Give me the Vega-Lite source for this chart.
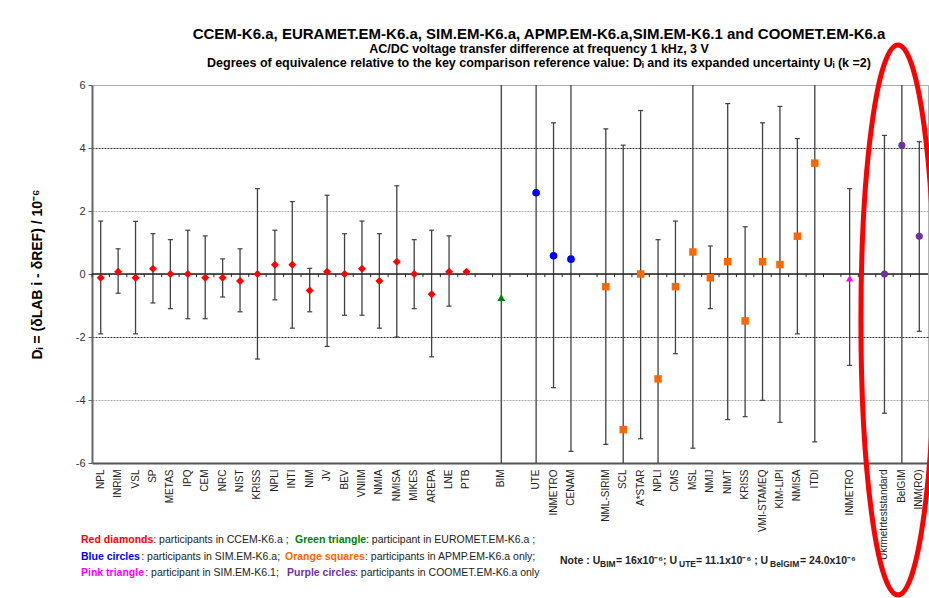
{
  "$schema": "https://vega.github.io/schema/vega-lite/v6.json",
  "width": 836,
  "height": 378,
  "autosize": {"type": "none"},
  "padding": {"left": 92, "top": 85, "right": 1, "bottom": 135},
  "background": "white",
  "config": {"view": {"stroke": "#b0b0b0", "strokeWidth": 1}, "font": "Liberation Sans"},
  "title": {
    "text": "CCEM-K6.a, EURAMET.EM-K6.a,  SIM.EM-K6.a,  APMP.EM-K6.a,SIM.EM-K6.1  and COOMET.EM-K6.a",
    "subtitle": ["AC/DC  voltage transfer difference at frequency 1 kHz, 3 V", "Degrees of equivalence relative to the key comparison reference value: Dᵢ and its expanded uncertainty Uᵢ (k =2)"],
    "anchor": "middle", "frame": "group", "dx": 29, "offset": -35,
    "font": "Liberation Sans", "fontSize": 15, "fontWeight": "bold", "color": "#000000",
    "subtitleFont": "Liberation Sans", "subtitleFontSize": 12.5, "subtitleFontWeight": "bold", "subtitleColor": "#000000",
    "subtitlePadding": 1, "subtitleLineHeight": 14.5
  },
  "data": {"values": [{}]},
  "datasets": {
    "pts": [
      {"key": "NPL", "d": -0.12, "lo": -1.9, "hi": 1.68, "grp": "CCEM"},
      {"key": "INRIM", "d": 0.07, "lo": -0.61, "hi": 0.8, "grp": "CCEM"},
      {"key": "VSL", "d": -0.12, "lo": -1.9, "hi": 1.67, "grp": "CCEM"},
      {"key": "SP", "d": 0.17, "lo": -0.92, "hi": 1.28, "grp": "CCEM"},
      {"key": "METAS", "d": 0.0, "lo": -1.1, "hi": 1.09, "grp": "CCEM"},
      {"key": "IPQ", "d": 0.0, "lo": -1.42, "hi": 1.39, "grp": "CCEM"},
      {"key": "CEM", "d": -0.12, "lo": -1.42, "hi": 1.21, "grp": "CCEM"},
      {"key": "NRC", "d": -0.12, "lo": -0.73, "hi": 0.48, "grp": "CCEM"},
      {"key": "NIST", "d": -0.22, "lo": -1.2, "hi": 0.8, "grp": "CCEM"},
      {"key": "KRISS", "d": 0.0, "lo": -2.7, "hi": 2.71, "grp": "CCEM"},
      {"key": "NPLI", "d": 0.29, "lo": -0.82, "hi": 1.39, "grp": "CCEM"},
      {"key": "INTI", "d": 0.29, "lo": -1.72, "hi": 2.3, "grp": "CCEM"},
      {"key": "NIM", "d": -0.52, "lo": -1.2, "hi": 0.18, "grp": "CCEM"},
      {"key": "JV", "d": 0.07, "lo": -2.3, "hi": 2.5, "grp": "CCEM"},
      {"key": "BEV", "d": 0.0, "lo": -1.31, "hi": 1.28, "grp": "CCEM"},
      {"key": "VNIIM", "d": 0.17, "lo": -1.31, "hi": 1.68, "grp": "CCEM"},
      {"key": "NMIA", "d": -0.22, "lo": -1.72, "hi": 1.28, "grp": "CCEM"},
      {"key": "NMISA", "d": 0.39, "lo": -2.0, "hi": 2.8, "grp": "CCEM"},
      {"key": "MIKES", "d": 0.0, "lo": -1.1, "hi": 1.09, "grp": "CCEM"},
      {"key": "AREPA", "d": -0.64, "lo": -2.63, "hi": 1.39, "grp": "CCEM"},
      {"key": "LNE", "d": 0.07, "lo": -1.02, "hi": 1.21, "grp": "CCEM"},
      {"key": "PTB", "d": 0.07, "lo": null, "hi": null, "grp": "CCEM"},
      {"key": "BIM", "d": -0.75, "lo": -16.75, "hi": 15.25, "grp": "EURAMET"},
      {"key": "UTE", "d": 2.58, "lo": -8.52, "hi": 13.68, "grp": "SIM"},
      {"key": "INMETRO", "d": 0.58, "lo": -3.61, "hi": 4.8, "grp": "SIM"},
      {"key": "CENAM", "d": 0.47, "lo": -5.63, "hi": 6.57, "grp": "SIM"},
      {"key": "NML-SIRIM", "d": -0.4, "lo": -5.41, "hi": 4.61, "grp": "APMP"},
      {"key": "SCL", "d": -4.94, "lo": -13.97, "hi": 4.09, "grp": "APMP"},
      {"key": "A*STAR", "d": 0.0, "lo": -5.23, "hi": 5.19, "grp": "APMP"},
      {"key": "NPLI_2", "d": -3.33, "lo": -7.75, "hi": 1.09, "grp": "APMP"},
      {"key": "CMS", "d": -0.4, "lo": -2.53, "hi": 1.68, "grp": "APMP"},
      {"key": "MSL", "d": 0.7, "lo": -5.53, "hi": 6.93, "grp": "APMP"},
      {"key": "NMIJ", "d": -0.12, "lo": -1.1, "hi": 0.89, "grp": "APMP"},
      {"key": "NIMT", "d": 0.39, "lo": -4.62, "hi": 5.41, "grp": "APMP"},
      {"key": "KRISS_2", "d": -1.49, "lo": -4.53, "hi": 1.5, "grp": "APMP"},
      {"key": "VMI-STAMEQ", "d": 0.39, "lo": -4.01, "hi": 4.8, "grp": "APMP"},
      {"key": "KIM-LIPI", "d": 0.3, "lo": -4.71, "hi": 5.32, "grp": "APMP"},
      {"key": "NMISA_2", "d": 1.2, "lo": -1.9, "hi": 4.3, "grp": "APMP"},
      {"key": "ITDI", "d": 3.52, "lo": -5.33, "hi": 12.37, "grp": "APMP"},
      {"key": "INMETRO_2", "d": -0.14, "lo": -2.9, "hi": 2.71, "grp": "SIM1"},
      {"key": "Ukrmetrteststandard", "d": 0.0, "lo": -4.42, "hi": 4.4, "grp": "COOMET"},
      {"key": "BelGIM", "d": 4.09, "lo": -19.91, "hi": 28.09, "grp": "COOMET"},
      {"key": "INM(RO)", "d": 1.2, "lo": -1.82, "hi": 4.2, "grp": "COOMET"}
    ],
    "cats": [
      {"key": "NPL"}, {"key": "INRIM"}, {"key": "VSL"}, {"key": "SP"}, {"key": "METAS"}, {"key": "IPQ"},
      {"key": "CEM"}, {"key": "NRC"}, {"key": "NIST"}, {"key": "KRISS"}, {"key": "NPLI"}, {"key": "INTI"},
      {"key": "NIM"}, {"key": "JV"}, {"key": "BEV"}, {"key": "VNIIM"}, {"key": "NMIA"}, {"key": "NMISA"},
      {"key": "MIKES"}, {"key": "AREPA"}, {"key": "LNE"}, {"key": "PTB"}, {"key": "_1"}, {"key": "BIM"},
      {"key": "_2"}, {"key": "UTE"}, {"key": "INMETRO"}, {"key": "CENAM"}, {"key": "_3"}, {"key": "NML-SIRIM"},
      {"key": "SCL"}, {"key": "A*STAR"}, {"key": "NPLI_2"}, {"key": "CMS"}, {"key": "MSL"}, {"key": "NMIJ"},
      {"key": "NIMT"}, {"key": "KRISS_2"}, {"key": "VMI-STAMEQ"}, {"key": "KIM-LIPI"}, {"key": "NMISA_2"}, {"key": "ITDI"},
      {"key": "_4"}, {"key": "INMETRO_2"}, {"key": "_5"}, {"key": "Ukrmetrteststandard"}, {"key": "BelGIM"}, {"key": "INM(RO)"}
    ]
  },
  "layer": [
    {
      "data": {"name": "pts"},
      "mark": {"type": "rule", "color": "#404040", "strokeWidth": 1.3, "clip": true},
      "encoding": {
        "x": {
          "field": "key", "type": "nominal",
          "scale": {"type": "band", "paddingInner": 0, "paddingOuter": 0,
            "domain": ["NPL","INRIM","VSL","SP","METAS","IPQ","CEM","NRC","NIST","KRISS","NPLI","INTI","NIM","JV","BEV","VNIIM","NMIA","NMISA","MIKES","AREPA","LNE","PTB","_1","BIM","_2","UTE","INMETRO","CENAM","_3","NML-SIRIM","SCL","A*STAR","NPLI_2","CMS","MSL","NMIJ","NIMT","KRISS_2","VMI-STAMEQ","KIM-LIPI","NMISA_2","ITDI","_4","INMETRO_2","_5","Ukrmetrteststandard","BelGIM","INM(RO)"]},
          "axis": {"title": null, "labelAngle": -90, "labelExpr": "split(datum.label, '_')[0]", "labelFontSize": 10, "labelColor": "#222222", "labelFont": "Liberation Sans", "ticks": false, "labelPadding": 6, "domainColor": "#555555", "domainWidth": 2, "labelOverlap": false, "grid": false}
        },
        "y": {
          "field": "lo", "type": "quantitative",
          "scale": {"domain": [-6, 6], "nice": false, "zero": false},
          "axis": {"title": "Dᵢ = (δLAB i - δREF) / 10⁻⁶", "values": [-6, -4, -2, 0, 2, 4, 6], "labelExpr": "'' + datum.value", "labelFontSize": 11, "labelColor": "#333333", "labelFont": "Liberation Sans", "tickSize": 4, "tickColor": "#666666", "domainColor": "#666666", "domainWidth": 2, "grid": true, "gridDash": [2, 1], "gridColor": {"condition": {"test": "datum.value == 4 || datum.value == -2", "value": "#333333"}, "value": "#aaaaaa"}, "titleFont": "Liberation Sans", "titleFontSize": 14, "titleFontWeight": "bold", "titleColor": "#000000", "titlePadding": 31, "labelPadding": 3}
        },
        "y2": {"field": "hi"}
      }
    },
    {
      "data": {"name": "pts"},
      "mark": {"type": "tick", "orient": "horizontal", "size": 5, "thickness": 1.2, "color": "#404040", "clip": true, "opacity": 1},
      "encoding": {"x": {"field": "key", "type": "nominal"}, "y": {"field": "lo", "type": "quantitative"}}
    },
    {
      "data": {"name": "pts"},
      "mark": {"type": "tick", "orient": "horizontal", "size": 5, "thickness": 1.2, "color": "#404040", "clip": true, "opacity": 1},
      "encoding": {"x": {"field": "key", "type": "nominal"}, "y": {"field": "hi", "type": "quantitative"}}
    },
    {
      "mark": {"type": "rule", "color": "#222222", "strokeWidth": 1.5},
      "encoding": {"y": {"datum": 0}}
    },
    {
      "data": {"name": "cats"},
      "mark": {"type": "rule", "color": "#222222", "strokeWidth": 1},
      "encoding": {"x": {"field": "key", "type": "nominal", "bandPosition": 0}, "y": {"datum": 0}, "y2": {"datum": -0.1}}
    },
    {
      "data": {"name": "pts"},
      "mark": {"type": "point", "filled": true, "opacity": 1, "strokeWidth": 0},
      "encoding": {
        "x": {"field": "key", "type": "nominal"},
        "y": {"field": "d", "type": "quantitative"},
        "shape": {"field": "grp", "type": "nominal", "legend": null, "scale": {"domain": ["CCEM","EURAMET","SIM","APMP","SIM1","COOMET"], "range": ["diamond","triangle-up","circle","square","triangle-up","circle"]}},
        "color": {"field": "grp", "type": "nominal", "legend": null, "scale": {"domain": ["CCEM","EURAMET","SIM","APMP","SIM1","COOMET"], "range": ["#ff0000","#008000","#0000ff","#ff6600","#ff00ff","#7030a0"]}},
        "size": {"field": "grp", "type": "nominal", "legend": null, "scale": {"domain": ["CCEM","EURAMET","SIM","APMP","SIM1","COOMET"], "range": [64, 50, 72, 66, 50, 52]}}
      }
    },
    {
      "mark": {"type": "point", "shape": "M-0.0145,-1 A0.1345,1 0 1,1 -0.0145,1 A0.1345,1 0 1,1 -0.0145,-1 Z", "filled": false, "stroke": "#ff0000", "strokeWidth": 5, "size": 302500, "opacity": 1, "clip": false},
      "encoding": {"x": {"datum": "BelGIM"}, "y": {"datum": -1.46}}
    },
    {"mark": {"type": "text", "align": "left", "baseline": "middle", "fontSize": 10.5, "fontWeight": "bold", "color": "#ff0000", "dx": -19.7, "text": "Red diamonds"}, "encoding": {"x": {"datum": "NPL"}, "y": {"datum": -8.44}}},
    {"mark": {"type": "text", "align": "left", "baseline": "middle", "fontSize": 10.5, "color": "#222222", "dx": 52.5, "text": ": participants in CCEM-K6.a ;"}, "encoding": {"x": {"datum": "NPL"}, "y": {"datum": -8.44}}},
    {"mark": {"type": "text", "align": "left", "baseline": "middle", "fontSize": 10.5, "fontWeight": "bold", "color": "#008000", "dx": 194.3, "text": "Green triangle"}, "encoding": {"x": {"datum": "NPL"}, "y": {"datum": -8.44}}},
    {"mark": {"type": "text", "align": "left", "baseline": "middle", "fontSize": 10.5, "color": "#222222", "dx": 265.3, "text": ": participant in EUROMET.EM-K6.a ;"}, "encoding": {"x": {"datum": "NPL"}, "y": {"datum": -8.44}}},
    {"mark": {"type": "text", "align": "left", "baseline": "middle", "fontSize": 10.5, "fontWeight": "bold", "color": "#0000ff", "dx": -19.7, "text": "Blue circles"}, "encoding": {"x": {"datum": "NPL"}, "y": {"datum": -8.98}}},
    {"mark": {"type": "text", "align": "left", "baseline": "middle", "fontSize": 10.5, "color": "#222222", "dx": 40.5, "text": ": participants in SIM.EM-K6.a;"}, "encoding": {"x": {"datum": "NPL"}, "y": {"datum": -8.98}}},
    {"mark": {"type": "text", "align": "left", "baseline": "middle", "fontSize": 10.5, "fontWeight": "bold", "color": "#ff6600", "dx": 184.3, "text": "Orange squares"}, "encoding": {"x": {"datum": "NPL"}, "y": {"datum": -8.98}}},
    {"mark": {"type": "text", "align": "left", "baseline": "middle", "fontSize": 10.5, "color": "#222222", "dx": 264.3, "text": ": participants in  APMP.EM-K6.a only;"}, "encoding": {"x": {"datum": "NPL"}, "y": {"datum": -8.98}}},
    {"mark": {"type": "text", "align": "left", "baseline": "middle", "fontSize": 10.5, "fontWeight": "bold", "color": "#ff00ff", "dx": -19.7, "text": "Pink triangle"}, "encoding": {"x": {"datum": "NPL"}, "y": {"datum": -9.49}}},
    {"mark": {"type": "text", "align": "left", "baseline": "middle", "fontSize": 10.5, "color": "#222222", "dx": 44.5, "text": ": participant in SIM.EM-K6.1;"}, "encoding": {"x": {"datum": "NPL"}, "y": {"datum": -9.49}}},
    {"mark": {"type": "text", "align": "left", "baseline": "middle", "fontSize": 10.5, "fontWeight": "bold", "color": "#7030a0", "dx": 186.3, "text": "Purple circles"}, "encoding": {"x": {"datum": "NPL"}, "y": {"datum": -9.49}}},
    {"mark": {"type": "text", "align": "left", "baseline": "middle", "fontSize": 10.5, "color": "#222222", "dx": 254.3, "text": ": participants in COOMET.EM-K6.a only"}, "encoding": {"x": {"datum": "NPL"}, "y": {"datum": -9.49}}},
    {"mark": {"type": "text", "align": "left", "baseline": "middle", "fontSize": 10.5, "fontWeight": "bold", "color": "#222222", "dx": 459.3, "text": "Note : U"}, "encoding": {"x": {"datum": "NPL"}, "y": {"datum": -9.11}}},
    {"mark": {"type": "text", "align": "left", "baseline": "middle", "fontSize": 8.5, "fontWeight": "bold", "color": "#222222", "dx": 499.3, "text": "BIM"}, "encoding": {"x": {"datum": "NPL"}, "y": {"datum": -9.22}}},
    {"mark": {"type": "text", "align": "left", "baseline": "middle", "fontSize": 10.5, "fontWeight": "bold", "color": "#222222", "dx": 515.3, "text": " = 16x10⁻⁶; U"}, "encoding": {"x": {"datum": "NPL"}, "y": {"datum": -9.11}}},
    {"mark": {"type": "text", "align": "left", "baseline": "middle", "fontSize": 8.5, "fontWeight": "bold", "color": "#222222", "dx": 578.3, "text": "UTE"}, "encoding": {"x": {"datum": "NPL"}, "y": {"datum": -9.22}}},
    {"mark": {"type": "text", "align": "left", "baseline": "middle", "fontSize": 10.5, "fontWeight": "bold", "color": "#222222", "dx": 595.3, "text": " = 11.1x10⁻⁶ ; U"}, "encoding": {"x": {"datum": "NPL"}, "y": {"datum": -9.11}}},
    {"mark": {"type": "text", "align": "left", "baseline": "middle", "fontSize": 8.5, "fontWeight": "bold", "color": "#222222", "dx": 669.3, "text": "BelGIM"}, "encoding": {"x": {"datum": "NPL"}, "y": {"datum": -9.22}}},
    {"mark": {"type": "text", "align": "left", "baseline": "middle", "fontSize": 10.5, "fontWeight": "bold", "color": "#222222", "dx": 699.3, "text": " = 24.0x10⁻⁶"}, "encoding": {"x": {"datum": "NPL"}, "y": {"datum": -9.11}}}
  ]
}
